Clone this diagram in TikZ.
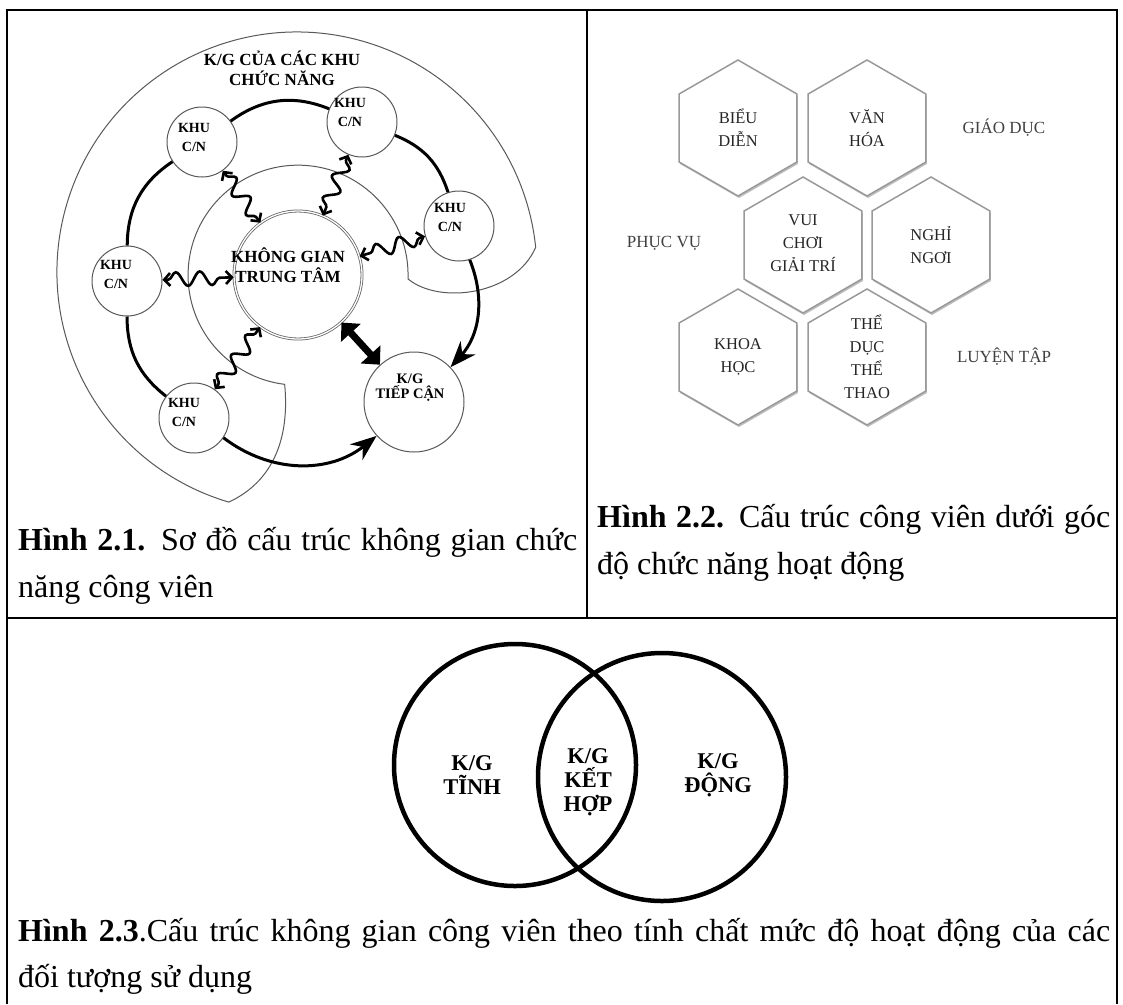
\documentclass[tikz,border=0pt]{standalone}
\usepackage{fontspec}
\setmainfont{Liberation Serif}
\usetikzlibrary{arrows.meta,decorations.pathmorphing,shapes.geometric,shadows,calc}
\begin{document}
\begin{tikzpicture}[x=1pt,y=-1pt,
  frameline/.style={line width=1.8pt},
  zone/.style={circle, draw=black!65, line width=1pt, fill=white, minimum size=70pt, inner sep=0pt},
  ztext/.style={font=\fontsize{14pt}{19pt}\selectfont\bfseries, align=center, inner sep=0pt},
  btext/.style={font=\fontsize{17pt}{20pt}\selectfont\bfseries, align=center, inner sep=0pt},
  thinline/.style={draw=black!65, line width=1pt},
  ringline/.style={line width=3pt},
  ringarrow/.style={line width=3pt, -{Stealth[length=26pt,width=20pt]}},
  wav/.style={line width=2.6pt, {Straight Barb[length=6pt,width=13pt]}-{Straight Barb[length=6pt,width=13pt]}, decorate, decoration={snake, amplitude=7pt, segment length=24pt, pre length=6pt, post length=6pt}},
  hexa/.style={regular polygon, regular polygon sides=6, shape border rotate=30, minimum size=136pt, inner sep=0pt, draw=black!40, line width=1.5pt, fill=white, drop shadow={shadow xshift=1pt, shadow yshift=-2pt, opacity=.25, fill=black}},
  htext/.style={font=\fontsize{16.5pt}{23pt}\selectfont, text=black!85, align=center, inner sep=0pt},
  hlabel/.style={font=\fontsize{17pt}{23pt}\selectfont, text=black!75, inner sep=0pt},
  venn/.style={circle, draw=black, line width=4.5pt, inner sep=0pt},
  vtext/.style={font=\fontsize{22.5pt}{24pt}\selectfont\bfseries, align=center, inner sep=0pt},
  captext/.style={font=\fontsize{32pt}{47pt}\selectfont, anchor=base west, inner sep=0pt}
]
\useasboundingbox (0,0) rectangle (1123,1004);
\fill[white] (0,0) rectangle (1123,1004);

% frame
\draw[frameline] (7,1004) -- (7,10) -- (1117,10) -- (1117,1004);
\draw[frameline] (587,10) -- (587,618);
\draw[frameline] (7,618) -- (1117,618);

% ---------- Figure 2.1 ----------
\draw[thinline] (228.8,502.1) arc[start angle=106.5, end angle=354.1, radius=240]
  .. controls (515,295) and (440,305) .. (408,279)
  arc[start angle=2, end angle=-263, radius=110]
  .. controls (290,440) and (272,482) .. (228.8,502.1);
\node[btext] (title) at (282,68) {K/G CỦA CÁC KHU\\CHỨC NĂNG};

\node[circle, draw=black!60, line width=0.8pt, double=white, double distance=1.3pt, fill=white, minimum size=128pt, inner sep=0pt] (cen) at (298,275) {};
\node[btext] (cent) at (288,265) {KHÔNG GIAN\\TRUNG TÂM};

\node[zone] (n1) at (202,142) {};
\node[zone] (n2) at (362,122) {};
\node[zone] (n3) at (459,226) {};
\node[zone] (n4) at (127,281) {};
\node[zone] (n5) at (194,418) {};
\node[zone, minimum size=100pt] (tc) at (414,402) {};
\node[ztext] (t1) at (194,137) {KHU\\C/N};
\node[ztext] (t2) at (350,112) {KHU\\C/N};
\node[ztext] (t3) at (450,217) {KHU\\C/N};
\node[ztext] (t4) at (116,274) {KHU\\C/N};
\node[ztext] (t5) at (184,412) {KHU\\C/N};
\node[font=\fontsize{14.5pt}{15pt}\selectfont\bfseries, align=center, inner sep=0pt] (tct) at (410,388) {K/G\\TIẾP CẬN};

% ring path
\draw[ringline] (n5) to[bend left=26] (n4);
\draw[ringline] (n4) to[bend left=28] (n1);
\draw[ringline] (n1) to[bend left=29] (n2);
\draw[ringline] (n2) to[bend left=25] (n3);
\draw[ringarrow] (n3) to[bend left=32] (tc);
\draw[ringarrow] (n5) to[bend right=38] (tc);

% wavy links
\draw[wav] (n1) -- (cen);
\draw[wav] (n2) -- (cen);
\draw[wav] (n3) -- (cen);
\draw[wav] (n4) -- (cen);
\draw[wav] (n5) -- (cen);
\draw[line width=7pt, {Triangle[length=14pt,width=26pt]}-{Triangle[length=14pt,width=26pt]}] (cen) -- (tc);

% ---------- Figure 2.2 ----------
\node[hexa] (h1) at (738,128) {};
\node[hexa] (h2) at (867,128) {};
\node[hexa] (h3) at (803,245) {};
\node[hexa] (h4) at (931,245) {};
\node[hexa] (h5) at (738,357) {};
\node[hexa] (h6) at (867,357) {};
\node[htext] (ht1) at (h1) {BIỂU\\DIỄN};
\node[htext] (ht2) at (h2) {VĂN\\HÓA};
\node[htext] (ht3) at (803,243) {VUI\\CHƠI\\GIẢI TRÍ};
\node[htext] (ht4) at (h4) {NGHỈ\\NGƠI};
\node[htext] (ht5) at (h5) {KHOA\\HỌC};
\node[htext] (ht6) at (h6) {THỂ\\DỤC\\THỂ\\THAO};
\node[hlabel] (l1) at (1004,128) {GIÁO DỤC};
\node[hlabel] (l2) at (664,243) {PHỤC VỤ};
\node[hlabel] (l3) at (1004,357) {LUYỆN TẬP};

% ---------- Figure 2.3 ----------
\node[venn, minimum size=242pt] (vt) at (515,765) {};
\node[venn, minimum size=248pt] (vd) at (662,777) {};
\node[vtext] (vtt) at (472,775) {K/G\\TĨNH};
\node[vtext] (vkt) at (588,782) {K/G\\KẾT\\HỢP};
\node[vtext] (vdt) at (718,775) {K/G\\ĐỘNG};

% ---------- captions ----------
\node[captext] (c1a) at (18,550) {\makebox[559pt][s]{\textbf{Hình 2.1.} Sơ đồ cấu trúc không gian chức}};
\node[captext] (c1b) at (18,597) {năng công viên};
\node[captext] (c2a) at (597,527) {\makebox[513pt][s]{\textbf{Hình 2.2.} Cấu trúc công viên dưới góc}};
\node[captext] (c2b) at (597,574) {độ chức năng hoạt động};
\node[captext] (c3a) at (18,941) {\makebox[1092pt][s]{\textbf{Hình 2.3}.Cấu trúc không gian công viên theo tính chất mức độ hoạt động của các}};
\node[captext] (c3b) at (18,987) {đối tượng sử dụng};
\end{tikzpicture}
\end{document}
